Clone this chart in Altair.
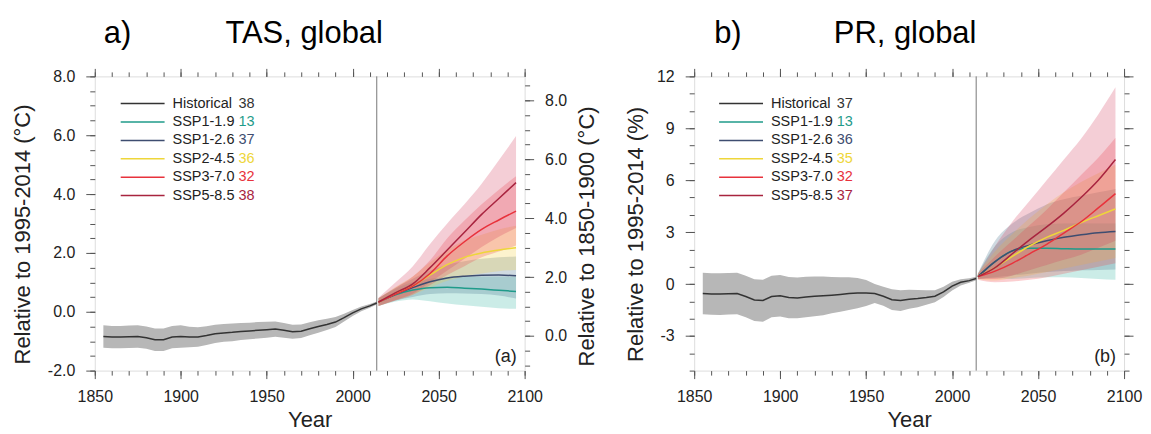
import altair as alt
import pandas as pd

# ---------------- data ----------------
names = ["Historical", "SSP1-1.9", "SSP1-2.6", "SSP2-4.5", "SSP3-7.0", "SSP5-8.5"]
palette = ["#333333", "#1f9b8a", "#3e4d70", "#eed63a", "#e8323c", "#a8243f"]
band_palette = ["#b7b7b7", "#2fb3a0", "#3f6a88", "#f2cf3a", "#ef3a45", "#d23a5a"]
tas_counts = [38, 13, 37, 36, 32, 38]
pr_counts = [37, 13, 36, 35, 32, 37]
split_year = 2014
tas_offset = 0.82  # 1850-1900 -> 1995-2014

hist_years = [1855, 1860, 1865, 1870, 1875, 1880, 1885, 1890, 1895, 1900, 1905, 1910,
              1915, 1920, 1925, 1930, 1935, 1940, 1945, 1950, 1955, 1960, 1965, 1970,
              1975, 1980, 1985, 1990, 1995, 2000, 2005, 2010, 2014]

tas_hist_mean = [-0.84, -0.86, -0.86, -0.85, -0.84, -0.88, -0.95, -0.95, -0.86, -0.84, -0.86, -0.86,
                 -0.81, -0.75, -0.72, -0.70, -0.67, -0.65, -0.63, -0.61, -0.59, -0.63, -0.68, -0.66,
                 -0.58, -0.50, -0.43, -0.35, -0.20, -0.04, 0.10, 0.20, 0.30]
tas_hist_lo = [-1.22, -1.24, -1.24, -1.23, -1.22, -1.26, -1.33, -1.33, -1.24, -1.22, -1.21, -1.19,
               -1.13, -1.06, -1.02, -1.00, -0.96, -0.93, -0.91, -0.88, -0.85, -0.88, -0.92, -0.89,
               -0.80, -0.71, -0.62, -0.52, -0.33, -0.14, 0.02, 0.14, 0.25]
tas_hist_hi = [-0.46, -0.48, -0.48, -0.47, -0.46, -0.50, -0.57, -0.57, -0.48, -0.46, -0.51, -0.53,
               -0.49, -0.44, -0.42, -0.40, -0.38, -0.37, -0.35, -0.34, -0.33, -0.38, -0.44, -0.43,
               -0.36, -0.29, -0.24, -0.18, -0.07, 0.06, 0.18, 0.26, 0.35]

pr_hist_mean = [-0.54, -0.57, -0.58, -0.56, -0.55, -0.72, -0.92, -0.95, -0.72, -0.68, -0.78, -0.80,
                -0.75, -0.71, -0.68, -0.64, -0.60, -0.55, -0.52, -0.52, -0.54, -0.70, -0.90, -0.95,
                -0.88, -0.84, -0.78, -0.70, -0.45, -0.12, 0.10, 0.20, 0.32]
pr_hist_lo = [-1.74, -1.77, -1.78, -1.76, -1.75, -1.92, -2.14, -2.17, -1.92, -1.88, -1.97, -1.98,
              -1.92, -1.86, -1.80, -1.69, -1.60, -1.50, -1.40, -1.27, -1.09, -1.25, -1.50, -1.55,
              -1.43, -1.34, -1.20, -1.05, -0.75, -0.37, -0.08, 0.07, 0.22]
pr_hist_hi = [0.66, 0.63, 0.62, 0.64, 0.65, 0.48, 0.28, 0.25, 0.48, 0.52, 0.41, 0.38,
              0.42, 0.44, 0.44, 0.41, 0.40, 0.40, 0.35, 0.23, 0.01, -0.15, -0.30, -0.35,
              -0.33, -0.34, -0.36, -0.35, -0.15, 0.13, 0.28, 0.33, 0.42]

fut_years = [2015, 2025, 2035, 2045, 2055, 2065, 2075, 2085, 2095]

tas_ssp119_mean = [0.33, 0.58, 0.74, 0.82, 0.83, 0.80, 0.77, 0.73, 0.69]
tas_ssp119_lo = [0.20, 0.35, 0.42, 0.36, 0.28, 0.22, 0.17, 0.12, 0.10]
tas_ssp119_hi = [0.45, 0.78, 1.00, 1.12, 1.18, 1.20, 1.20, 1.20, 1.20]
tas_ssp126_mean = [0.33, 0.60, 0.82, 1.02, 1.15, 1.21, 1.24, 1.25, 1.22]
tas_ssp126_lo = [0.20, 0.38, 0.50, 0.60, 0.63, 0.62, 0.60, 0.55, 0.45]
tas_ssp126_hi = [0.46, 0.82, 1.12, 1.40, 1.60, 1.72, 1.80, 1.85, 1.88]
tas_ssp245_mean = [0.33, 0.62, 0.88, 1.25, 1.60, 1.85, 2.00, 2.10, 2.18]
tas_ssp245_lo = [0.20, 0.40, 0.58, 0.82, 1.05, 1.20, 1.30, 1.38, 1.42]
tas_ssp245_hi = [0.46, 0.85, 1.20, 1.68, 2.10, 2.42, 2.62, 2.80, 2.92]
tas_ssp370_mean = [0.33, 0.60, 0.87, 1.30, 1.90, 2.38, 2.80, 3.12, 3.42]
tas_ssp370_lo = [0.20, 0.38, 0.58, 0.90, 1.25, 1.55, 1.85, 2.05, 2.25]
tas_ssp370_hi = [0.46, 0.82, 1.20, 1.75, 2.50, 3.10, 3.65, 4.15, 4.61]
tas_ssp585_mean = [0.33, 0.65, 0.95, 1.50, 2.10, 2.70, 3.31, 3.85, 4.39]
tas_ssp585_lo = [0.20, 0.40, 0.62, 1.00, 1.40, 1.80, 2.20, 2.55, 2.85]
tas_ssp585_hi = [0.48, 1.00, 1.55, 2.30, 3.00, 3.65, 4.35, 5.15, 5.97]

pr_ssp119_mean = [0.43, 1.30, 1.92, 2.07, 2.07, 2.04, 2.02, 2.02, 2.02]
pr_ssp119_lo = [0.30, 0.35, 0.30, 0.35, 0.40, 0.40, 0.35, 0.30, 0.25]
pr_ssp119_hi = [0.60, 2.20, 3.00, 3.30, 3.45, 3.50, 3.50, 3.50, 3.50]
pr_ssp126_mean = [0.43, 1.30, 1.92, 2.25, 2.50, 2.70, 2.85, 2.97, 3.04]
pr_ssp126_lo = [0.30, 0.40, 0.50, 0.60, 0.70, 0.75, 0.80, 0.82, 0.84]
pr_ssp126_hi = [0.60, 2.50, 3.50, 4.10, 4.60, 4.90, 5.10, 5.30, 5.50]
pr_ssp245_mean = [0.43, 0.95, 1.60, 2.20, 2.70, 3.10, 3.55, 3.95, 4.34]
pr_ssp245_lo = [0.30, 0.20, 0.35, 0.50, 0.70, 0.90, 1.10, 1.30, 1.50]
pr_ssp245_hi = [0.60, 1.90, 2.90, 3.80, 4.60, 5.30, 5.90, 6.40, 6.90]
pr_ssp370_mean = [0.43, 0.75, 1.20, 1.75, 2.30, 2.95, 3.60, 4.40, 5.23]
pr_ssp370_lo = [0.25, 0.10, 0.15, 0.25, 0.40, 0.60, 0.80, 1.00, 1.20]
pr_ssp370_hi = [0.60, 1.60, 2.50, 3.40, 4.30, 5.30, 6.30, 7.30, 8.46]
pr_ssp585_mean = [0.43, 0.95, 1.75, 2.55, 3.30, 4.10, 5.00, 6.00, 7.20]
pr_ssp585_lo = [0.30, 0.30, 0.50, 0.80, 1.10, 1.40, 1.70, 2.10, 2.50]
pr_ssp585_hi = [0.60, 2.20, 3.60, 4.80, 6.00, 7.20, 8.40, 9.80, 11.37]

tas_fut = {
    "SSP1-1.9": (tas_ssp119_mean, tas_ssp119_lo, tas_ssp119_hi),
    "SSP1-2.6": (tas_ssp126_mean, tas_ssp126_lo, tas_ssp126_hi),
    "SSP2-4.5": (tas_ssp245_mean, tas_ssp245_lo, tas_ssp245_hi),
    "SSP3-7.0": (tas_ssp370_mean, tas_ssp370_lo, tas_ssp370_hi),
    "SSP5-8.5": (tas_ssp585_mean, tas_ssp585_lo, tas_ssp585_hi),
}
pr_fut = {
    "SSP1-1.9": (pr_ssp119_mean, pr_ssp119_lo, pr_ssp119_hi),
    "SSP1-2.6": (pr_ssp126_mean, pr_ssp126_lo, pr_ssp126_hi),
    "SSP2-4.5": (pr_ssp245_mean, pr_ssp245_lo, pr_ssp245_hi),
    "SSP3-7.0": (pr_ssp370_mean, pr_ssp370_lo, pr_ssp370_hi),
    "SSP5-8.5": (pr_ssp585_mean, pr_ssp585_lo, pr_ssp585_hi),
}


def hist_frame(mean, lo, hi):
    return pd.DataFrame({"year": hist_years, "mean": mean, "lo": lo, "hi": hi})


def fut_frame(d):
    rows = []
    for k, (m, lo, hi) in d.items():
        for y, a, b, c in zip(fut_years, m, lo, hi):
            rows.append({"scenario": k, "year": y, "mean": a, "lo": b, "hi": c})
    return pd.DataFrame(rows)


FONT = "Liberation Sans"
TICK = "#555555"
color_scale = alt.Scale(domain=names, range=palette)
band_scale = alt.Scale(domain=names, range=band_palette)
W, H = 431, 295


def neg_expr(fmt):
    return ("datum.value < 0 ? '-' + format(-datum.value, '%s') : format(datum.value, '%s')"
            % (fmt, fmt))


def frange(a, b, step):
    out, v = [], a
    while v <= b + 1e-9:
        out.append(round(v, 3))
        v += step
    return out


def panel(hist_df, fut_df, counts, ydom, ymajor, yminor, yfmt, ytitle,
          rdom, rmajor, rminor, rlabels, rtitle, tag, tlab, ttitle):
    xscale = alt.Scale(domain=[1850, 2100], nice=False, zero=False)
    yscale = alt.Scale(domain=ydom, nice=False, zero=False)
    rscale = alt.Scale(domain=rdom, nice=False, zero=False)
    xmajor = [1850, 1900, 1950, 2000, 2050, 2100]
    xminor = list(range(1850, 2101, 10))

    xaxis = alt.Axis(orient="bottom", values=xmajor, format="d", tickSize=8, domain=False,
                     grid=False, labelPadding=10, labelFontSize=16, labelFont=FONT,
                     labelFlush=False, labelOverlap=False,
                     labelColor="#222", tickColor=TICK, title="Year", titleFont=FONT,
                     titleFontSize=22, titleFontWeight="normal", titleColor="#222",
                     titleX=W / 2, titleY=49, titleBaseline="middle", titleAlign="center")
    yaxis = alt.Axis(orient="left", values=ymajor, labelExpr=neg_expr(yfmt), tickSize=9,
                     domain=False, grid=False, labelPadding=11, labelFontSize=16,
                     labelFont=FONT, labelColor="#222", tickColor=TICK, title=ytitle,
                     labelOverlap=False,
                     titleFont=FONT, titleFontSize=22, titleFontWeight="normal",
                     titleColor="#222", titleAngle=270, titleX=-72 if rlabels else -59,
                     titleY=158, titleBaseline="middle", titleAlign="center")
    X = alt.X("year:Q", scale=xscale, axis=xaxis)

    def Y(f):
        return alt.Y(f, scale=yscale, axis=yaxis, stack=None)

    hist_band = alt.Chart(hist_df).mark_area(color="#b7b7b7").encode(
        x=X, y=Y("lo:Q"), y2="hi:Q")
    fut_band = alt.Chart(fut_df).mark_area(opacity=0.25, interpolate="monotone").encode(
        x=X, y=Y("lo:Q"), y2="hi:Q",
        fill=alt.Fill("scenario:N", scale=band_scale, legend=None))
    vrule = alt.Chart(pd.DataFrame({"year": [split_year]})).mark_rule(
        color="#777", strokeWidth=1).encode(x=X)
    hist_line = alt.Chart(hist_df).mark_line(color="#333333", strokeWidth=1.5).encode(
        x=X, y=Y("mean:Q"))
    fut_line = alt.Chart(fut_df).mark_line(strokeWidth=1.5, interpolate="monotone").encode(
        x=X, y=Y("mean:Q"),
        color=alt.Color("scenario:N", scale=color_scale, legend=None))

    leg_df = pd.DataFrame({"name": names, "count": counts, "row": list(range(len(names)))})
    leg_base = alt.Chart(leg_df).transform_calculate(py="27.3 + datum.row * 18.45")
    py = alt.Y("py:Q", scale=None, axis=None)
    lx0 = 26 if rlabels else 25
    leg_lines = leg_base.mark_rule(strokeWidth=1.5).encode(
        x=alt.value(lx0), x2=alt.value(lx0 + 44), y=py,
        color=alt.Color("name:N", scale=color_scale, legend=None))
    leg_text = leg_base.mark_text(align="left", baseline="middle", font=FONT,
                                  fontSize=14.5, color="#222").encode(
        x=alt.value(lx0 + 52), y=py, text="name:N")
    leg_count = leg_base.mark_text(align="left", baseline="middle", font=FONT,
                                   fontSize=14.5).encode(
        x=alt.value(lx0 + 118), y=py, text="count:N",
        color=alt.Color("name:N", scale=color_scale, legend=None))

    tag_text = alt.Chart(pd.DataFrame({"t": [tag]})).mark_text(
        align="right", baseline="alphabetic", font=FONT, fontSize=18, color="#222").encode(
        x=alt.value(423), y=alt.value(286), text="t:N")
    t1 = alt.Chart(pd.DataFrame({"t": [tlab]})).mark_text(
        align="left", baseline="alphabetic", font=FONT, fontSize=31, color="#000").encode(
        x=alt.value(9 if rlabels else 20), y=alt.value(-33), text="t:N")
    t2 = alt.Chart(pd.DataFrame({"t": [ttitle]})).mark_text(
        align="left", baseline="alphabetic", font=FONT, fontSize=31, color="#000").encode(
        x=alt.value(131 if rlabels else 140), y=alt.value(-33), text="t:N")

    main = alt.layer(hist_band, fut_band, vrule, hist_line, fut_line,
                     leg_lines, leg_text, leg_count, tag_text, t1, t2)

    dummy = pd.DataFrame({"x": [1900], "y": [ydom[0]], "r": [rdom[0]]})

    def mk_axis(orient, values, size, labels=False, **kw):
        return alt.Axis(orient=orient, values=values, tickSize=size, labels=labels,
                        domain=False, grid=False, tickColor=TICK, title=None, **kw)

    minor_layer = alt.Chart(dummy).mark_point(opacity=0).encode(
        x=alt.X("x:Q", scale=xscale, axis=mk_axis("bottom", xminor, 4.5)),
        y=alt.Y("y:Q", scale=yscale, axis=mk_axis("left", yminor, 5)))

    if rlabels:
        rax = alt.Axis(orient="right", values=rmajor, tickSize=9, domain=False, grid=False,
                       tickColor=TICK, labelExpr=neg_expr(yfmt), labelPadding=11,
                       labelFontSize=16, labelFont=FONT, labelColor="#222", title=rtitle,
                       labelOverlap=False,
                       titleFont=FONT, titleFontSize=22, titleFontWeight="normal",
                       titleColor="#222", titleAngle=270, titleX=62, titleY=160,
                       titleBaseline="middle", titleAlign="center")
    else:
        rax = mk_axis("right", rmajor, 9)
    top_major = alt.Chart(dummy).mark_point(opacity=0).encode(
        x=alt.X("x:Q", scale=xscale, axis=mk_axis("top", xmajor, 8)),
        y=alt.Y("r:Q", scale=rscale, axis=rax))
    top_minor = alt.Chart(dummy).mark_point(opacity=0).encode(
        x=alt.X("x:Q", scale=xscale, axis=mk_axis("top", xminor, 4.5)),
        y=alt.Y("r:Q", scale=rscale, axis=mk_axis("right", rminor, 5)))

    return alt.layer(main, minor_layer, top_major, top_minor).resolve_scale(
        x="independent", y="independent").properties(width=W, height=H)


tas_rdom = [-2 + tas_offset, 8 + tas_offset]
panel_a = panel(
    hist_frame(tas_hist_mean, tas_hist_lo, tas_hist_hi), fut_frame(tas_fut), tas_counts,
    [-2, 8], [-2, 0, 2, 4, 6, 8], frange(-2, 8, 0.5), ".1f", "Relative to 1995-2014 (°C)",
    tas_rdom, [0, 2, 4, 6, 8], frange(-1.0, 8.5, 0.5), True, "Relative to 1850-1900 (°C)",
    "(a)", "a)", "TAS, global")

panel_b = panel(
    hist_frame(pr_hist_mean, pr_hist_lo, pr_hist_hi), fut_frame(pr_fut), pr_counts,
    [-5, 12], [-3, 0, 3, 6, 9, 12], frange(-5, 12, 1), "d", "Relative to 1995-2014 (%)",
    [-5, 12], [-3, 0, 3, 6, 9, 12], frange(-5, 12, 1), False, None,
    "(b)", "b)", "PR, global")

chart = alt.hconcat(panel_a, panel_b, spacing=25).properties(
    padding={"left": 3, "top": 9, "right": 0, "bottom": 5}
).configure_view(stroke="#555555", strokeWidth=1).configure(background="white")

chart.save("out.html", embed_options={"renderer": "svg", "actions": False})
